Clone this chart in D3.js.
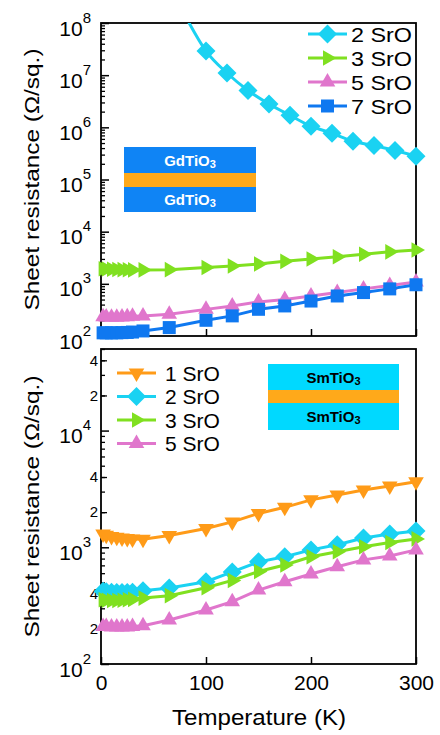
<!DOCTYPE html>
<html>
<head>
<meta charset="utf-8">
<script src="https://cdn.jsdelivr.net/npm/d3@7"></script>
<style>
  body { margin: 0; background: #fff; }
  text { font-family: "Liberation Sans", Arial, sans-serif; fill: #000; }
</style>
</head>
<body>
<svg id="chart"></svg>
<script>
const width = 440;
const height = 735;

// temperatures (K)
const temps = [2, 5, 10, 15, 20, 25, 30, 40, 65, 100, 125, 150, 175, 200, 225, 250, 275, 300];
const tempsGd2 = [100, 120, 140, 160, 180, 200, 220, 240, 260, 280, 300];
const fitTempsGd2 = [80, 100, 120, 140, 160, 180, 200, 220, 240, 260, 280, 300];

// GdTiO3 panel, sheet resistance (ohm/sq)
const gd2 = [2.9e7, 1.1e7, 5.1e6, 2.8e6, 1.7e6, 1.05e6, 7.7e5, 5.4e5, 4.5e5, 3.6e5, 2.8e5];
const gd2Fit = [1.4e8, 2.9e7, 1.1e7, 5.1e6, 2.8e6, 1.7e6, 1.05e6, 7.7e5, 5.4e5, 4.5e5, 3.6e5, 2.8e5];
const gd3 = [1950, 1920, 1900, 1880, 1870, 1860, 1850, 1850, 1870, 2050, 2200, 2400, 2700, 2990, 3300, 3700, 4100, 4450];
const gd5 = [235, 232, 230, 230, 232, 235, 238, 243, 261, 324, 377, 450, 500, 585, 680, 800, 930, 1080];
const gd7 = [115, 115, 115, 115, 116, 117, 119, 125, 145, 200, 243, 325, 377, 468, 585, 680, 800, 960];

// SmTiO3 panel
const sm1 = [1300, 1270, 1240, 1220, 1200, 1190, 1180, 1170, 1260, 1450, 1650, 1950, 2200, 2550, 2800, 3100, 3350, 3650];
const sm2 = [420, 415, 412, 410, 410, 410, 412, 425, 447, 507, 615, 750, 830, 950, 1050, 1200, 1300, 1380];
const sm3 = [355, 352, 350, 350, 352, 355, 358, 367, 385, 450, 520, 620, 705, 830, 915, 1010, 1100, 1180];
const sm5 = [210, 210, 208, 207, 207, 208, 210, 213, 238, 290, 342, 430, 507, 590, 682, 780, 842, 950];

const xTicks = [0, 100, 200, 300];
const topMajor = [1e2, 1e3, 1e4, 1e5, 1e6, 1e7, 1e8];
const botMajor = [1e2, 1e3, 1e4];
const botLabeledMinor = [200, 400, 2000, 4000, 20000, 40000];

const colors = { cyan: "#1ad2f2", green: "#80e020", pink: "#e076cc", blue: "#0f78f0", orange: "#ff9b18" };

const svg = d3.select("#chart").attr("width", width).attr("height", height);

const x = d3.scaleLinear().domain([0, 300]).range([101, 416]);
const yTop = d3.scaleLog().domain([1e2, 1e8]).range([336, 23]);
const yBot = d3.scaleLog().domain([1e2, 5e4]).range([664, 349]);

function markerPath(type) {
  if (type === "diamond") return "M0,-9.5L9.5,0L0,9.5L-9.5,0Z";
  if (type === "square") return "M-6.5,-6.5H6.5V6.5H-6.5Z";
  if (type === "up") return "M0,-9L7.8,4.5L-7.8,4.5Z";
  if (type === "down") return "M0,9L7.8,-4.5L-7.8,-4.5Z";
  if (type === "right") return "M9,0L-4.5,7.8L-4.5,-7.8Z";
}

function minorTicks(domain) {
  const out = [];
  for (let e = Math.round(Math.log10(domain[0])); e <= Math.log10(domain[1]); e++) {
    for (let m = 2; m <= 9; m++) {
      const v = m * Math.pow(10, e);
      if (v <= domain[1]) out.push(v);
    }
  }
  return out;
}

function drawAxes(y, major, labeledMinor, showXLabels) {
  const domain = y.domain();
  svg.append("g").attr("transform", "translate(101,0)")
    .call(d3.axisLeft(y).tickValues(minorTicks(domain)).tickSize(-4).tickSizeOuter(0).tickFormat(""))
    .call(g => g.select(".domain").remove())
    .call(g => g.selectAll("line").attr("stroke", "#000").attr("stroke-width", 1.3));

  const maj = svg.append("g").attr("transform", "translate(101,0)")
    .call(d3.axisLeft(y).tickValues(major).tickSize(-8).tickSizeOuter(0).tickFormat(""))
    .call(g => g.select(".domain").remove())
    .call(g => g.selectAll("line").attr("stroke", "#000").attr("stroke-width", 1.5));
  maj.selectAll(".tick").append("text")
    .attr("x", -10).attr("y", 12).attr("text-anchor", "end")
    .style("font-size", "21px")
    .text("10")
    .append("tspan").attr("dy", -13).style("font-size", "15px")
    .text(d => Math.round(Math.log10(d)));

  if (labeledMinor) {
    svg.append("g").attr("transform", "translate(101,0)")
      .call(d3.axisLeft(y).tickValues(labeledMinor).tickSize(-6).tickSizeOuter(0).tickPadding(3)
        .tickFormat(d => String(Math.round(d / Math.pow(10, Math.floor(Math.log10(d)))))))
      .call(g => g.select(".domain").remove())
      .call(g => g.selectAll("line").attr("stroke", "#000").attr("stroke-width", 1.3))
      .call(g => g.selectAll("text").attr("fill", "#000").style("font-size", "15px")
        .style("font-family", '"Liberation Sans", Arial, sans-serif'));
  }

  svg.append("g").attr("transform", `translate(0,${y.range()[0]})`)
    .call(d3.axisBottom(x).tickValues(xTicks).tickSize(-7).tickSizeOuter(0).tickPadding(11)
      .tickFormat(showXLabels ? d3.format("d") : ""))
    .call(g => g.select(".domain").remove())
    .call(g => g.selectAll("line").attr("stroke", "#000").attr("stroke-width", 1.5))
    .call(g => g.selectAll("text").attr("fill", "#000").style("font-size", "21px")
      .style("font-family", '"Liberation Sans", Arial, sans-serif'));

  svg.append("rect")
    .attr("x", x.range()[0]).attr("y", y.range()[1])
    .attr("width", x.range()[1] - x.range()[0])
    .attr("height", y.range()[0] - y.range()[1])
    .attr("fill", "none").attr("stroke", "#000").attr("stroke-width", 1.8);

  svg.append("text")
    .attr("transform", `translate(39,${(y.range()[0] + y.range()[1]) / 2}) rotate(-90)`)
    .attr("text-anchor", "middle")
    .attr("textLength", 262).attr("lengthAdjust", "spacingAndGlyphs")
    .style("font-size", "21px")
    .text("Sheet resistance (\u03A9/sq.)");
}

function drawSeries(y, ts, vals, color, marker, lineTs, lineVals, clipId) {
  const line = d3.line().x(d => x(d[0])).y(d => y(d[1]));
  const pts = ts.map((t, i) => [t, vals[i]]);
  if (lineTs) {
    const fit = lineTs.map((t, i) => [t, lineVals[i]]);
    svg.append("path").datum(fit)
      .attr("d", line.curve(d3.curveMonotoneX))
      .attr("clip-path", `url(#${clipId})`)
      .attr("fill", "none").attr("stroke", color).attr("stroke-width", 3);
  } else {
    svg.append("path").datum(pts)
      .attr("d", line)
      .attr("fill", "none").attr("stroke", color).attr("stroke-width", 3);
  }
  svg.append("g").selectAll("path").data(pts).enter().append("path")
    .attr("transform", d => `translate(${x(d[0])},${y(d[1])})`)
    .attr("d", markerPath(marker))
    .attr("fill", color);
}

function drawLegend(items, x0, y0, dy, textGap, textLen) {
  items.forEach((it, i) => {
    const yy = y0 + i * dy;
    svg.append("line").attr("x1", x0).attr("x2", x0 + 39).attr("y1", yy).attr("y2", yy)
      .attr("stroke", it.color).attr("stroke-width", 3);
    svg.append("path").attr("transform", `translate(${x0 + 19.5},${yy})`)
      .attr("d", markerPath(it.marker)).attr("fill", it.color);
    const t = svg.append("text").attr("x", x0 + textGap).attr("y", yy + 7.5)
      .style("font-size", "21px").text(it.label);
    if (textLen) t.attr("textLength", textLen).attr("lengthAdjust", "spacingAndGlyphs");
  });
}

function drawInset(x0, y0, w, h1, h2, h3, fill, label, textColor) {
  svg.append("rect").attr("x", x0).attr("y", y0).attr("width", w).attr("height", h1).attr("fill", fill);
  svg.append("rect").attr("x", x0).attr("y", y0 + h1).attr("width", w).attr("height", h2).attr("fill", "#ffa91a");
  svg.append("rect").attr("x", x0).attr("y", y0 + h1 + h2).attr("width", w).attr("height", h3).attr("fill", fill);
  [y0 + h1 / 2, y0 + h1 + h2 + h3 / 2].forEach(cy => {
    const t = svg.append("text").attr("x", x0 + w / 2).attr("y", cy + 5.5)
      .attr("text-anchor", "middle").style("font-size", "15px").style("font-weight", "bold")
      .style("fill", textColor).text(label);
    t.append("tspan").attr("dy", 2).style("font-size", "11px").text("3");
  });
}

// clip for the fit curve
svg.append("clipPath").attr("id", "clipTop").append("rect")
  .attr("x", 101).attr("y", 23).attr("width", 315).attr("height", 313);

// top panel: GdTiO3
drawAxes(yTop, topMajor, null, false);
drawInset(124, 147, 132, 26, 14, 25, "#0f84f5", "GdTiO", "#fff");
drawSeries(yTop, tempsGd2, gd2, colors.cyan, "diamond", fitTempsGd2, gd2Fit, "clipTop");
drawSeries(yTop, temps, gd3, colors.green, "right");
drawSeries(yTop, temps, gd5, colors.pink, "up");
drawSeries(yTop, temps, gd7, colors.blue, "square");
drawLegend([
  { label: "2 SrO", color: colors.cyan, marker: "diamond" },
  { label: "3 SrO", color: colors.green, marker: "right" },
  { label: "5 SrO", color: colors.pink, marker: "up" },
  { label: "7 SrO", color: colors.blue, marker: "square" }
], 308, 34, 24, 43, 61);

// bottom panel: SmTiO3
drawAxes(yBot, botMajor, botLabeledMinor, true);
drawInset(268, 364, 131, 26, 13, 27, "#00d9ff", "SmTiO", "#000");
drawSeries(yBot, temps, sm1, colors.orange, "down");
drawSeries(yBot, temps, sm2, colors.cyan, "diamond");
drawSeries(yBot, temps, sm3, colors.green, "right");
drawSeries(yBot, temps, sm5, colors.pink, "up");
drawLegend([
  { label: "1 SrO", color: colors.orange, marker: "down" },
  { label: "2 SrO", color: colors.cyan, marker: "diamond" },
  { label: "3 SrO", color: colors.green, marker: "right" },
  { label: "5 SrO", color: colors.pink, marker: "up" }
], 117, 373, 23.5, 48, null);

svg.append("text").attr("x", 259).attr("y", 725).attr("text-anchor", "middle")
  .attr("textLength", 174).attr("lengthAdjust", "spacingAndGlyphs")
  .style("font-size", "22px").text("Temperature (K)");
</script>
</body>
</html>
